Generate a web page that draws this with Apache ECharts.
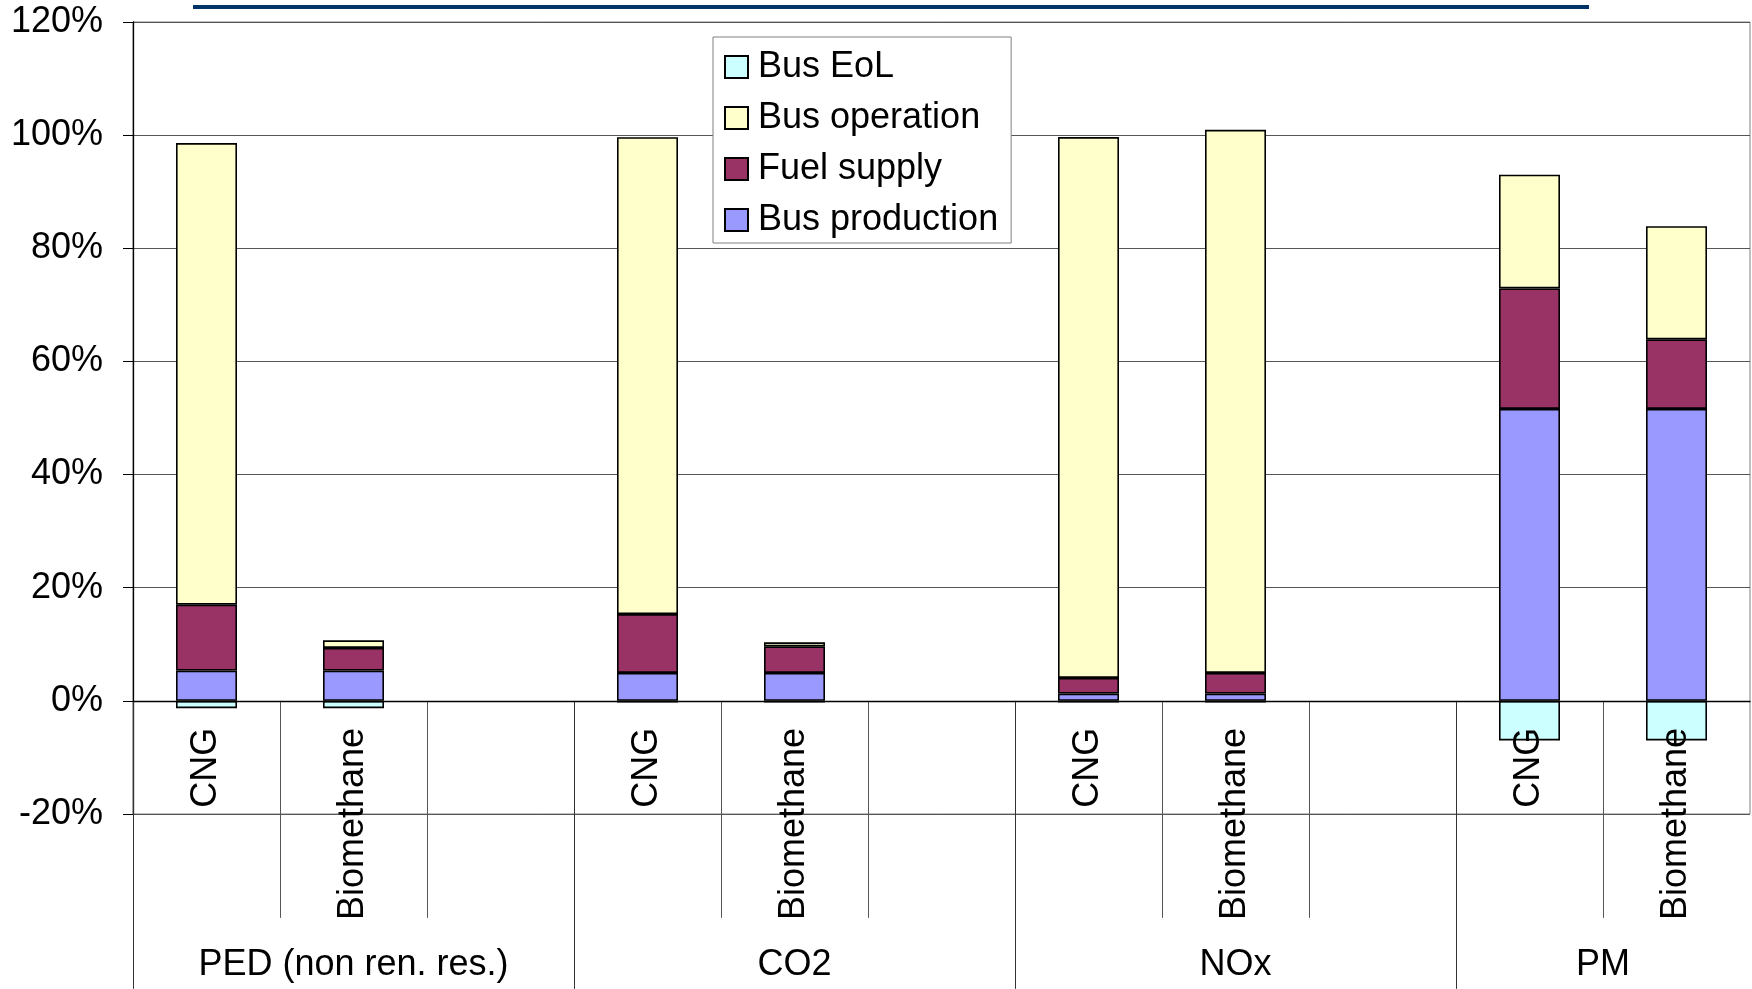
<!DOCTYPE html>
<html>
<head>
<meta charset="utf-8">
<title>Bus life cycle contributions</title>
<script src="https://cdn.jsdelivr.net/npm/echarts@6/dist/echarts.min.js"></script>
<style>
  html, body { margin: 0; padding: 0; background: #fff; }
  #chart { width: 1752px; height: 989px; }
</style>
</head>
<body>
<div id="chart"></div>
<script>
// Bar slots along the horizontal axis: two fuels per indicator, with a spacer slot between indicators
const slots = ['CNG', 'Biomethane', '', 'CNG', 'Biomethane', '', 'CNG', 'Biomethane', '', 'CNG', 'Biomethane'];
// Indicator groups and how many slots each one spans
const groupNames = ['PED (non ren. res.)', 'CO2', 'NOx', 'PM'];
const groupSizes = [3, 3, 3, 2];
// Vertical axis ticks (percent)
const yTicks = [-20, 0, 20, 40, 60, 80, 100, 120];

// Life cycle stage contributions, percent of the CNG reference
const busProduction = [5.35, 5.35, '-', 4.94, 4.94, '-', 1.29, 1.29, '-', 51.6, 51.6];
const fuelSupply    = [11.65, 4.0, '-', 10.4, 4.7, '-', 2.77, 3.65, '-', 21.3, 12.3];
const busOperation  = [81.6, 1.35, '-', 84.3, 0.7, '-', 95.6, 96.0, '-', 20.1, 20.0];
const busEoL        = [-1.3, -1.3, '-', -0.3, -0.3, '-', -0.3, -0.3, '-', -7.0, -7.0];

const FONT = '"Liberation Sans", Arial, Helvetica, sans-serif';

// Plot box
const W = 1752, H = 989;
const GRID = { left: 133, right: 2, top: 22, bottom: 175 };
const yMin = yTicks[0], yMax = yTicks[yTicks.length - 1];
// distance from the plot's bottom edge up to the zero line; axis labels are laid out from the bottom edge
const zeroLift = (0 - yMin) / (yMax - yMin) * (H - GRID.top - GRID.bottom);

// Slot boundaries for group separators, inner separators and group label centres
const groupStarts = [];
const groupCenters = [];
let acc = 0;
groupSizes.forEach(function (s) {
  groupStarts.push(acc);
  groupCenters.push(acc + s / 2);
  acc += s;
});
const innerBounds = [];
for (let i = 1; i < slots.length; i++) {
  if (groupStarts.indexOf(i) < 0) innerBounds.push(i);
}

const chart = echarts.init(document.getElementById('chart'), null, { renderer: 'canvas' });

function barSeries(name, data, color) {
  return {
    name: name,
    type: 'bar',
    stack: 'total',
    data: data,
    barWidth: '41.5%',
    itemStyle: { color: color, borderColor: '#000', borderWidth: 1.6 },
    emphasis: { disabled: true }
  };
}

const option = {
  animation: false,
  backgroundColor: '#fff',
  textStyle: { fontFamily: FONT },
  grid: {
    left: GRID.left, right: GRID.right, top: GRID.top, bottom: GRID.bottom,
    containLabel: false,
    outerBoundsMode: 'none',
    show: true, borderColor: '#808080', borderWidth: 1, backgroundColor: 'transparent'
  },
  graphic: [{
    type: 'rect',
    shape: { x: 193, y: 5, width: 1396, height: 4 },
    style: { fill: '#003366' },
    silent: true
  }],
  legend: {
    data: ['Bus EoL', 'Bus operation', 'Fuel supply', 'Bus production'],
    orient: 'vertical',
    left: 713, top: 37,
    padding: [10, 13, 3, 11],
    itemGap: 11,
    itemWidth: 23, itemHeight: 22,
    icon: 'rect',
    backgroundColor: '#fff',
    borderColor: '#808080', borderWidth: 1,
    textStyle: { fontFamily: FONT, fontSize: 36, color: '#000', lineHeight: 40, padding: [0, 0, 0, 5] },
    selectedMode: false
  },
  xAxis: [
    {
      type: 'category',
      position: 'bottom',
      z: 5,
      data: slots,
      axisLine: { onZero: true, onZeroAxisIndex: 0, lineStyle: { color: '#000', width: 1.3 } },
      axisTick: { show: false },
      axisLabel: {
        interval: 0, rotate: 90, margin: 27 - zeroLift,
        fontSize: 36, color: '#000', fontFamily: FONT
      },
      splitLine: { show: false }
    },
    {
      // inner separators between fuels
      type: 'value', min: 0, max: slots.length,
      position: 'bottom',
      axisLine: { show: true, onZero: true, onZeroAxisIndex: 0, lineStyle: { opacity: 0 } },
      axisTick: { show: true, customValues: innerBounds, length: 217, lineStyle: { color: '#555', width: 1 } },
      axisLabel: { show: false },
      splitLine: { show: false }
    },
    {
      // indicator group separators and names
      type: 'value', min: 0, max: slots.length,
      position: 'bottom',
      axisLine: { show: true, onZero: true, onZeroAxisIndex: 0, lineStyle: { opacity: 0 } },
      axisTick: { show: true, customValues: groupStarts, length: 288, lineStyle: { color: '#333', width: 1 } },
      axisLabel: {
        show: true,
        customValues: groupCenters,
        margin: 246 - zeroLift,
        fontSize: 36, color: '#000', fontFamily: FONT,
        formatter: function (v) {
          const idx = groupCenters.indexOf(Number(v));
          return idx >= 0 ? groupNames[idx] : '';
        }
      },
      splitLine: { show: false }
    }
  ],
  yAxis: {
    type: 'value',
    min: yMin,
    max: yMax,
    interval: yTicks[1] - yTicks[0],
    axisLine: { show: true, lineStyle: { color: '#000', width: 1.3 } },
    axisTick: { show: true, inside: false, length: 10, lineStyle: { color: '#000', width: 1 } },
    axisLabel: { formatter: '{value}%', fontSize: 36, color: '#000', margin: 30, fontFamily: FONT },
    splitLine: { show: true, lineStyle: { color: '#555', width: 1.2 } }
  },
  series: [
    barSeries('Bus production', busProduction, '#9999FF'),
    barSeries('Fuel supply', fuelSupply, '#993366'),
    barSeries('Bus operation', busOperation, '#FFFFCC'),
    barSeries('Bus EoL', busEoL, '#CCFFFF')
  ]
};

chart.setOption(option);
</script>
</body>
</html>
